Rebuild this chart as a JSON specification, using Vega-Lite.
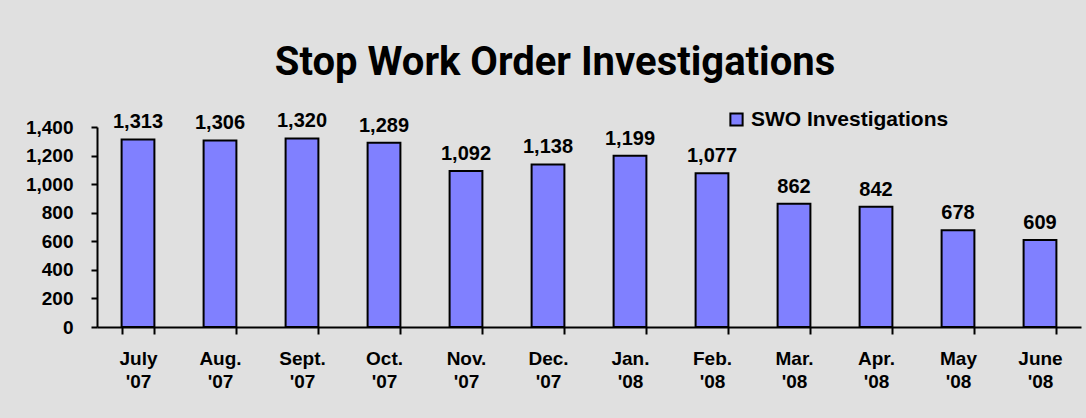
{
  "$schema": "https://vega.github.io/schema/vega-lite/v6.json",
  "width": 984,
  "height": 200,
  "autosize": {"type": "none"},
  "padding": {"left": 97, "top": 127, "right": 5, "bottom": 91},
  "background": "#e0e0e0",
  "title": {
    "text": "Stop Work Order Investigations",
    "font": "Roboto",
    "fontSize": 40,
    "fontWeight": "bold",
    "color": "black",
    "anchor": "middle",
    "frame": "group",
    "dx": -34,
    "offset": 26
  },
  "config": {
    "view": {"stroke": null},
    "font": "Liberation Sans"
  },
  "data": {
    "values": [
      {"month": "July '07", "value": 1313, "series": "SWO Investigations"},
      {"month": "Aug. '07", "value": 1306, "series": "SWO Investigations"},
      {"month": "Sept. '07", "value": 1320, "series": "SWO Investigations"},
      {"month": "Oct. '07", "value": 1289, "series": "SWO Investigations"},
      {"month": "Nov. '07", "value": 1092, "series": "SWO Investigations"},
      {"month": "Dec. '07", "value": 1138, "series": "SWO Investigations"},
      {"month": "Jan. '08", "value": 1199, "series": "SWO Investigations"},
      {"month": "Feb. '08", "value": 1077, "series": "SWO Investigations"},
      {"month": "Mar. '08", "value": 862, "series": "SWO Investigations"},
      {"month": "Apr. '08", "value": 842, "series": "SWO Investigations"},
      {"month": "May '08", "value": 678, "series": "SWO Investigations"},
      {"month": "June '08", "value": 609, "series": "SWO Investigations"}
    ]
  },
  "encoding": {
    "x": {
      "field": "month",
      "type": "nominal",
      "sort": null,
      "scale": {"paddingInner": 0.6, "paddingOuter": 0.3},
      "axis": {
        "title": null,
        "labelAngle": 0,
        "labelExpr": "split(datum.label, ' ')",
        "labelFont": "Liberation Sans",
        "labelFontSize": 19,
        "labelFontWeight": "bold",
        "labelColor": "black",
        "labelLineHeight": 23,
        "labelBaseline": "top",
        "labelPadding": 15,
        "tickBand": "extent",
        "tickSize": 7,
        "tickWidth": 2,
        "tickColor": "black",
        "domainColor": "black",
        "domainWidth": 2
      }
    },
    "y": {
      "field": "value",
      "type": "quantitative",
      "scale": {"domain": [0, 1400], "nice": false},
      "axis": {
        "title": null,
        "values": [0, 200, 400, 600, 800, 1000, 1200, 1400],
        "format": ",d",
        "grid": false,
        "labelFont": "Liberation Sans",
        "labelFontSize": 19,
        "labelFontWeight": "bold",
        "labelColor": "black",
        "labelPadding": 18,
        "tickSize": 6,
        "tickWidth": 2,
        "tickColor": "black",
        "domainColor": "black",
        "domainWidth": 2
      }
    }
  },
  "layer": [
    {
      "mark": {"type": "bar", "stroke": "black", "strokeWidth": 2},
      "encoding": {
        "color": {
          "field": "series",
          "type": "nominal",
          "scale": {"range": ["#8080ff"]},
          "legend": {
            "title": null,
            "orient": "none",
            "legendX": 629,
            "legendY": -18,
            "symbolType": "square",
            "symbolSize": 150,
            "symbolStrokeColor": "black",
            "symbolStrokeWidth": 2,
            "symbolFillColor": "#8080ff",
            "labelFont": "Liberation Sans",
            "labelFontSize": 21,
            "labelFontWeight": "bold",
            "labelColor": "black",
            "labelOffset": 4,
            "labelLimit": 400
          }
        }
      }
    },
    {
      "mark": {
        "type": "text",
        "baseline": "alphabetic",
        "dy": -11,
        "font": "Liberation Sans",
        "fontSize": 20,
        "fontWeight": "bold",
        "color": "black"
      },
      "encoding": {
        "text": {"field": "value", "type": "quantitative", "format": ","}
      }
    }
  ]
}
